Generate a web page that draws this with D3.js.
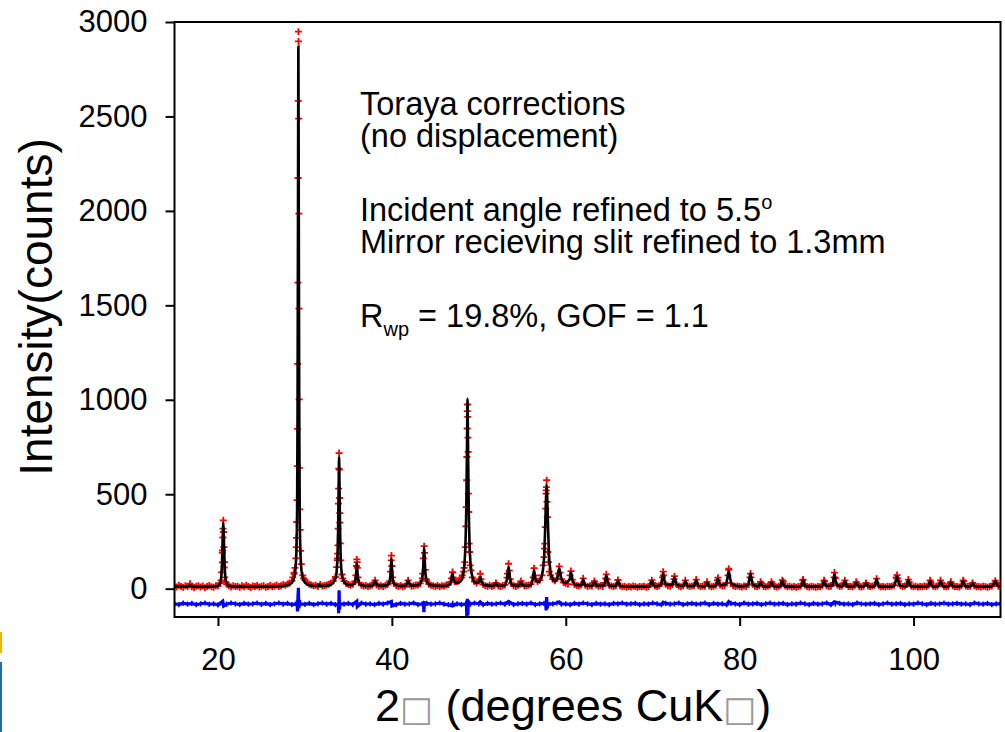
<!DOCTYPE html>
<html lang="en">
<head>
<meta charset="UTF-8">
<title>Rietveld refinement</title>
<style>
  body { margin: 0; background: #fff; }
  svg { display: block; font-family: "Liberation Sans", Arial, sans-serif; }
</style>
</head>
<body>
<svg id="chart" width="1005" height="732"></svg>
<script src="https://cdn.jsdelivr.net/npm/d3@7"></script>
<script>
// observed counts on a 0.25 deg grid, 15 .. 110
var gridStart = 15, gridStep = 0.25;
var obsGrid = [
  14, 9, 18, 11, 7, 15, 12, 19, 10, 6, 13, 16, 9, 14, 5, 12, 17, 10, 8, 15,
  16, 28, 190, 140, 24, 15, 9, 16, 11, 13, 7, 15, 10, 18, 12, 6, 14, 11, 17, 9,
  13, 15, 8, 12, 17, 10, 14, 19, 11, 16, 22, 18, 25, 30, 42, 78, 220, 2949, 200, 70,
  45, 32, 24, 20, 15, 18, 12, 22, 14, 17, 20, 24, 30, 40, 62, 160, 400, 75, 40, 28,
  22, 18, 24, 40, 140, 32, 18, 14, 17, 11, 15, 19, 32, 20, 13, 16, 12, 18, 22, 40,
  120, 28, 16, 12, 17, 10, 14, 24, 22, 13, 16, 19, 20, 28, 55, 190, 42, 24, 18, 15,
  12, 17, 10, 15, 14, 19, 22, 34, 85, 36, 38, 45, 58, 90, 330, 800, 123, 60, 38, 30,
  40, 50, 22, 16, 13, 18, 11, 17, 26, 14, 12, 17, 20, 58, 95, 28, 16, 12, 18, 24,
  28, 14, 17, 20, 24, 60, 50, 38, 45, 70, 167, 520, 141, 70, 50, 42, 55, 118, 50, 32,
  28, 24, 70, 48, 22, 17, 14, 19, 55, 18, 12, 16, 14, 30, 20, 13, 17, 12, 30, 48,
  18, 14, 11, 16, 46, 15, 10, 13, 8, 12, 9, 14, 11, 7, 12, 10, 13, 8, 12, 22,
  30, 14, 11, 16, 28, 70, 24, 15, 13, 22, 66, 22, 14, 10, 15, 44, 16, 11, 14, 17,
  48, 15, 11, 14, 13, 36, 14, 10, 13, 18, 58, 20, 14, 16, 30, 100, 28, 15, 11, 14,
  12, 9, 14, 11, 22, 80, 24, 13, 11, 15, 28, 12, 10, 14, 20, 26, 12, 9, 13, 20,
  38, 14, 10, 13, 9, 12, 8, 11, 14, 44, 20, 12, 9, 13, 10, 8, 12, 10, 18, 40,
  15, 11, 13, 30, 55, 18, 12, 14, 30, 22, 11, 13, 10, 18, 26, 12, 9, 13, 28, 14,
  11, 14, 18, 53, 16, 10, 12, 9, 13, 11, 14, 18, 60, 40, 15, 12, 14, 22, 35, 13,
  10, 13, 9, 12, 10, 14, 11, 20, 35, 13, 10, 14, 26, 30, 12, 10, 13, 30, 16, 11,
  12, 9, 15, 40, 14, 11, 13, 28, 15, 10, 12, 9, 13, 11, 8, 12, 14, 26, 30, 13,
  12
];

// extra observed points on the peak flanks [2theta, counts]
var obsPeaks = [
  [16.78, 26],
  [20.35, 44], [20.42, 86], [20.5, 139], [20.53, 202], [20.56, 271], [20.58, 318],
  [20.61, 362], [20.64, 300], [20.67, 220], [20.72, 112], [20.78, 60], [20.88, 35],
  [28.6, 60], [28.75, 85], [28.85, 110], [28.95, 160], [29.02, 269], [29.06, 353],
  [29.1, 469], [29.12, 649], [29.14, 846], [29.16, 1190], [29.19, 1620], [29.21, 2174],
  [29.23, 2582], [29.26, 2897], [29.28, 2488], [29.3, 1986], [29.32, 1483],
  [29.34, 1002], [29.37, 640], [29.4, 420], [29.44, 311], [29.58, 130], [29.85, 55],
  [33.5, 60], [33.65, 114], [33.72, 150], [33.77, 185], [33.8, 229], [33.83, 318],
  [33.86, 450], [33.88, 530], [33.9, 636], [33.93, 718], [33.96, 630], [33.99, 480],
  [34.02, 350], [34.06, 240], [34.12, 150], [34.35, 55],
  [35.85, 70], [35.92, 120], [35.97, 155], [36.03, 110], [36.1, 60],
  [38.0, 30], [38.07, 44],
  [39.85, 90], [39.92, 150], [39.95, 175], [40.08, 60],
  [41.87, 44],
  [43.55, 80], [43.63, 160], [43.71, 225], [43.83, 100], [43.95, 50],
  [46.85, 55], [46.97, 88], [47.05, 60],
  [47.6, 40], [47.85, 50], [48.1, 70], [48.3, 110],
  [48.4, 141], [48.45, 220], [48.55, 432], [48.6, 574], [48.63, 697], [48.66, 848],
  [48.68, 940], [48.7, 975], [48.72, 909], [48.78, 724], [48.8, 503], [48.83, 406],
  [48.88, 238], [48.93, 194], [49.1, 97],
  [50.05, 50], [50.16, 79],
  [51.96, 30],
  [53.3, 80], [53.42, 132], [53.6, 50],
  [54.85, 40],
  [56.35, 108], [56.45, 70],
  [57.4, 123], [57.55, 212], [57.6, 238], [57.65, 326], [57.7, 424], [57.73, 503],
  [57.77, 538], [57.8, 574], [57.84, 459], [57.88, 379], [57.93, 194], [58.1, 90],
  [59.15, 80], [59.33, 85],
  [60.6, 93],
  [63.3, 40],
  [64.6, 55], [64.66, 76], [64.73, 50],
  [69.9, 45],
  [71.13, 60], [71.2, 90],
  [72.45, 50],
  [77.45, 45],
  [78.65, 70], [78.74, 106],
  [81.18, 60], [81.3, 60],
  [82.4, 36], [83.65, 36], [84.9, 45], [87.3, 48], [89.7, 44],
  [90.85, 60], [90.9, 85], [90.96, 60],
  [92.1, 44], [93.4, 36], [94.55, 30],
  [98.05, 55], [98.1, 72], [98.16, 55],
  [99.4, 48], [101.9, 44], [103.1, 44], [104.3, 36], [105.7, 44], [106.8, 30], [109.4, 42]
];

// calculated profile [2theta, counts]
var calcProfile = [
  [15, 12], [16.5, 11], [16.78, 18], [17.1, 11], [19, 10], [20.0, 14], [20.3, 40],
  [20.45, 120], [20.55, 280], [20.61, 352], [20.67, 280], [20.77, 120], [20.92, 40],
  [21.2, 16], [22, 11], [24, 10], [26, 11], [27.5, 14], [28.2, 22], [28.6, 40],
  [28.85, 80], [29.0, 170], [29.1, 420], [29.15, 900], [29.2, 1900], [29.25, 2870],
  [29.3, 1900], [29.35, 900], [29.4, 420], [29.5, 170], [29.65, 80], [29.9, 40],
  [30.3, 22], [31.0, 14], [31.5, 14], [31.65, 22], [31.8, 14], [32.6, 16], [33.2, 30],
  [33.55, 60], [33.72, 140], [33.82, 330], [33.88, 540], [33.93, 697], [33.98, 540],
  [34.04, 330], [34.14, 140], [34.3, 60], [34.6, 30], [35.2, 18], [35.6, 24],
  [35.82, 50], [35.92, 100], [35.97, 135], [36.02, 100], [36.12, 50], [36.35, 22],
  [37.0, 14], [37.8, 16], [38.07, 40], [38.35, 16], [39.3, 16], [39.7, 30],
  [39.85, 80], [39.95, 160], [40.05, 80], [40.2, 30], [40.8, 14], [41.6, 16],
  [41.87, 42], [42.15, 16], [43.0, 18], [43.4, 40], [43.6, 110], [43.71, 220],
  [43.82, 110], [44.0, 40], [44.5, 18], [46.0, 14], [46.6, 22], [46.85, 50],
  [46.97, 79], [47.09, 50], [47.35, 30], [47.9, 40], [48.25, 90], [48.45, 220],
  [48.58, 500], [48.65, 800], [48.7, 1005], [48.75, 800], [48.82, 500], [48.95, 220],
  [49.15, 90], [49.5, 35], [49.85, 30], [50.05, 45], [50.16, 62], [50.27, 45],
  [50.5, 20], [51.7, 14], [51.96, 28], [52.2, 14], [53.0, 18], [53.25, 55],
  [53.42, 115], [53.59, 55], [53.85, 18], [54.6, 15], [54.85, 35], [55.1, 15],
  [56.0, 20], [56.22, 55], [56.35, 98], [56.48, 55], [56.8, 35], [57.2, 60],
  [57.5, 160], [57.65, 350], [57.73, 480], [57.8, 550], [57.87, 480], [57.95, 350],
  [58.1, 160], [58.4, 60], [58.8, 40], [59.05, 60], [59.25, 108], [59.45, 60],
  [59.9, 30], [60.45, 50], [60.6, 88], [60.75, 50], [61.1, 20], [61.8, 18], [62.0, 50],
  [62.2, 18], [63.05, 15], [63.3, 38], [63.55, 15], [64.4, 18], [64.55, 45],
  [64.66, 70], [64.77, 45], [65.0, 16], [65.75, 14], [66.0, 42], [66.25, 14],
  [67.5, 10], [69.6, 12], [69.9, 42], [70.2, 12], [70.95, 20], [71.1, 55], [71.2, 82],
  [71.3, 55], [71.5, 22], [72.25, 20], [72.5, 60], [72.75, 20], [73.5, 14],
  [73.76, 40], [74.0, 14], [74.75, 14], [75.0, 45], [75.25, 14], [76.0, 12],
  [76.25, 33], [76.5, 12], [77.25, 16], [77.5, 52], [77.75, 18], [78.45, 25],
  [78.62, 65], [78.74, 93], [78.86, 65], [79.1, 22], [80.2, 12], [81.0, 20],
  [81.13, 55], [81.24, 80], [81.35, 55], [81.55, 20], [82.15, 12], [82.4, 32],
  [82.65, 12], [83.4, 12], [83.65, 32], [83.9, 12], [84.65, 12], [84.9, 42],
  [85.15, 12], [86.5, 10], [87.05, 12], [87.3, 45], [87.55, 12], [89.45, 12],
  [89.7, 40], [89.95, 14], [90.7, 18], [90.8, 50], [90.9, 78], [91.0, 50], [91.2, 18],
  [91.85, 12], [92.1, 40], [92.35, 12], [93.15, 12], [93.4, 33], [93.65, 12],
  [94.3, 12], [94.55, 28], [94.8, 12], [95.5, 12], [95.75, 50], [96.0, 12], [97.0, 10],
  [97.8, 16], [97.97, 45], [98.1, 65], [98.23, 45], [98.45, 16], [99.15, 12],
  [99.4, 45], [99.65, 12], [101.65, 12], [101.9, 40], [102.15, 12], [102.85, 12],
  [103.1, 40], [103.35, 12], [104.05, 12], [104.3, 33], [104.55, 12], [105.45, 12],
  [105.7, 40], [105.95, 12], [106.55, 12], [106.8, 28], [107.05, 12], [109.0, 10],
  [109.4, 40], [109.7, 14], [110, 12]
];

// difference curve (offset), 0.5 deg grid plus spikes at the peaks
var diffStep = 0.5;
var diffGrid = [
  -80, -84, -77, -82, -78, -85, -80, -76, -83, -80, -86, -78, -82, -76, -80, -84, -78, -82, -80, -76,
  -83, -78, -84, -80, -76, -82, -78, -85, -76, -80, -83, -78, -84, -80, -76, -82, -78, -84, -80, -82,
  -78, -84, -80, -76, -82, -80, -85, -78, -82, -76, -80, -84, -78, -82, -80, -76, -84, -80, -78, -82,
  -80, -76, -82, -85, -78, -80, -84, -78, -82, -76, -80, -85, -78, -82, -80, -76, -82, -78, -84, -80,
  -78, -82, -76, -84, -80, -78, -85, -80, -76, -82, -80, -84, -78, -82, -76, -80, -84, -78, -82, -80,
  -84, -78, -80, -76, -82, -80, -78, -84, -80, -82, -76, -80, -85, -78, -82, -80, -76, -84, -80, -78,
  -82, -80, -76, -84, -78, -82, -80, -85, -78, -80, -84, -76, -82, -80, -78, -84, -80, -76, -82, -80,
  -78, -84, -80, -82, -76, -80, -84, -78, -82, -80, -76, -85, -80, -78, -82, -80, -84, -76, -80, -82,
  -80, -78, -84, -80, -76, -82, -80, -78, -84, -80, -82, -76, -80, -84, -78, -82, -80, -76, -82, -80,
  -78, -82, -80, -84, -76, -80, -82, -78, -84, -80, -80
];
var diffSpikes = [
  [20.55, -66], [20.65, -92],
  [29.1, -82], [29.15, -120], [29.2, -40], [29.25, 5], [29.3, -104], [29.35, -62], [29.42, -80],
  [33.84, -82], [33.88, -130], [33.93, -8], [33.98, -110], [34.04, -80],
  [35.97, -66], [36.02, -95],
  [39.95, -68], [40.0, -92],
  [43.65, -82], [43.68, -124], [43.75, -74],
  [46.97, -92],
  [48.58, -82], [48.62, -150], [48.68, -53], [48.74, -140], [48.8, -62], [48.86, -80],
  [50.16, -70], [53.42, -68],
  [57.7, -82], [57.74, -115], [57.8, -45], [57.86, -105], [57.92, -80],
  [59.25, -70], [71.2, -72], [78.74, -68], [90.9, -70]
];

var xTicks = [20, 40, 60, 80, 100];
var yTicks = [0, 500, 1000, 1500, 2000, 2500, 3000];

var notes = [
  "Toraya corrections",
  "(no displacement)",
  "Incident angle refined to 5.5",
  "Mirror recieving slit refined to 1.3mm"
];

// --- drawing ---
var svg = d3.select("#chart");
var x = d3.scaleLinear().domain([15, 110]).range([174.5, 1000.5]);
var y = d3.scaleLinear().domain([-150, 3000]).range([617, 22]);

svg.append("clipPath").attr("id", "clip")
  .append("rect")
  .attr("x", x(15)).attr("y", y(3000))
  .attr("width", x(110) - x(15)).attr("height", y(-150) - y(3000));

var plot = svg.append("g").attr("clip-path", "url(#clip)");

function crosses(pts, r) {
  return pts.map(function (d) {
    var px = x(d[0]), py = y(d[1]);
    return "M" + (px - r) + "," + py + "h" + (2 * r) + "M" + px + "," + (py - r) + "v" + (2 * r);
  }).join("");
}

// observed: red crosses
var obsPts = obsGrid.map(function (v, i) { return [gridStart + i * gridStep, v]; })
  .concat(obsPeaks);
plot.append("path")
  .attr("d", crosses(obsPts, 3.5))
  .attr("stroke", "#ff0000")
  .attr("stroke-width", 1.8)
  .attr("fill", "none");

// calculated: black line
plot.append("path")
  .datum(calcProfile)
  .attr("d", d3.line()
    .x(function (d) { return x(d[0]); })
    .y(function (d) { return y(d[1]); })
    .curve(d3.curveMonotoneX))
  .attr("stroke", "#000")
  .attr("stroke-width", 2.6)
  .attr("fill", "none");

// difference: blue line with small crosses
var diffGridPts = diffGrid.map(function (v, i) { return [gridStart + i * diffStep, v]; });
var diffPts = diffGridPts
  .filter(function (d) {
    return !diffSpikes.some(function (s) { return Math.abs(s[0] - d[0]) < 0.12; });
  })
  .concat(diffSpikes)
  .sort(function (a, b) { return a[0] - b[0]; });

plot.append("path")
  .datum(diffPts)
  .attr("d", d3.line()
    .x(function (d) { return x(d[0]); })
    .y(function (d) { return y(d[1]); }))
  .attr("stroke", "#0000ff")
  .attr("stroke-width", 3.2)
  .attr("fill", "none");
plot.append("path")
  .attr("d", crosses(diffGridPts, 2.6))
  .attr("stroke", "#0000ff")
  .attr("stroke-width", 1.5)
  .attr("fill", "none");

// frame
svg.append("rect")
  .attr("x", x(15)).attr("y", y(3000))
  .attr("width", x(110) - x(15)).attr("height", y(-150) - y(3000))
  .attr("fill", "none").attr("stroke", "#000").attr("stroke-width", 2);

// axes
var yAxis = svg.append("g")
  .attr("transform", "translate(" + x(15) + ",0)")
  .call(d3.axisLeft(y).tickValues(yTicks).tickFormat(d3.format("d"))
    .tickSize(9).tickSizeOuter(0).tickPadding(18));
var xAxis = svg.append("g")
  .attr("transform", "translate(0," + y(-150) + ")")
  .call(d3.axisBottom(x).tickValues(xTicks).tickFormat(d3.format("d"))
    .tickSize(9).tickSizeOuter(0).tickPadding(22));

[yAxis, xAxis].forEach(function (g) {
  g.select(".domain").remove();
  g.selectAll(".tick line").attr("stroke", "#000").attr("stroke-width", 2);
  g.selectAll(".tick text")
    .attr("fill", "#000")
    .style("font-family", '"Liberation Sans", Arial, sans-serif')
    .style("font-size", "31px");
});

// axis titles
svg.append("text")
  .attr("transform", "translate(52,307) rotate(-90)")
  .attr("text-anchor", "middle")
  .style("font-size", "46px")
  .text("Intensity(counts)");

var xTitle = svg.append("text")
  .attr("x", 375).attr("y", 721)
  .style("font-size", "45px");
xTitle.append("tspan").text("2");
xTitle.append("tspan").attr("fill", "#999").style("font-size", "35px")
  .style("font-family", "DejaVu Sans").text("\u25A1");
xTitle.append("tspan").text(" (degrees CuK");
xTitle.append("tspan").attr("fill", "#999").style("font-size", "35px")
  .style("font-family", "DejaVu Sans").text("\u25A1");
xTitle.append("tspan").text(")");

// annotation block
var noteY = [115, 147, 221, 253];
notes.forEach(function (t, i) {
  var tx = svg.append("text")
    .attr("x", 360).attr("y", noteY[i])
    .style("font-size", "32.5px")
    .text(t);
  if (i === 2) {
    tx.append("tspan").attr("dy", -12).style("font-size", "20px").text("o");
  }
});

var rw = svg.append("text").attr("x", 360).attr("y", 326.7).style("font-size", "32.5px");
rw.append("tspan").text("R");
rw.append("tspan").attr("dy", 9).style("font-size", "20px").text("wp");
rw.append("tspan").attr("dy", -9).text(" = 19.8%, GOF = 1.1");

// slide edge remnants at bottom-left
svg.append("rect").attr("x", 0).attr("y", 632).attr("width", 2).attr("height", 21).attr("fill", "#f2b600");
svg.append("rect").attr("x", 0).attr("y", 662).attr("width", 2).attr("height", 70).attr("fill", "#1f6fa6");
</script>
</body>
</html>
